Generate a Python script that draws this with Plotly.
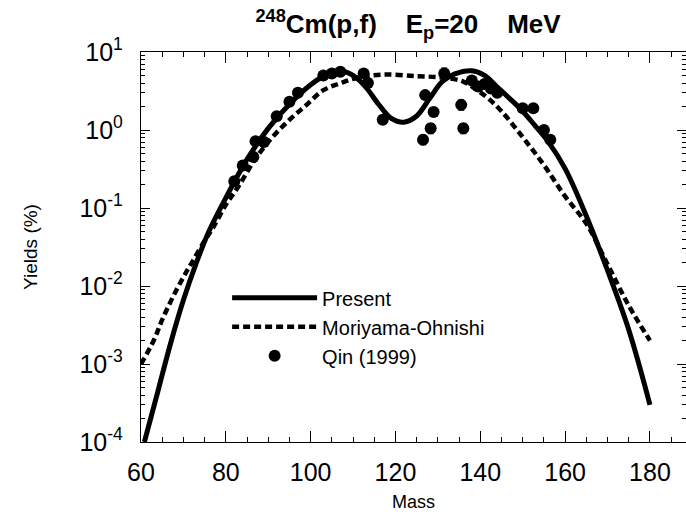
import plotly.graph_objects as go

# ---- data ----
present_mass = [60.8, 64, 67, 70, 73, 76, 80, 85, 90, 95, 100, 104, 107, 110, 113, 116,
                119, 122, 125, 128, 131, 134, 138, 141, 144, 147, 150, 153, 156, 160,
                165, 170, 175, 180]
present_yield = [1.0e-4, 4.5e-4, 1.86e-3, 6.6e-3, 0.0195, 0.050, 0.135, 0.42, 1.05, 2.14,
                 3.80, 5.25, 5.75, 5.0, 3.55, 2.14, 1.41, 1.26, 1.51, 2.51, 4.17, 5.25,
                 5.75, 5.0, 3.55, 2.51, 1.74, 1.12, 0.71, 0.32, 0.079, 0.0158, 0.00275,
                 0.00030]

moriyama_mass = [60, 63, 65, 67.5, 70, 72, 75, 77, 80, 83, 87, 91, 95, 99, 103, 107, 111,
                 117, 125, 131, 136, 139, 142, 145, 150, 155, 160, 165, 170, 175, 180]
moriyama_yield = [1.0e-3, 2.0e-3, 3.7e-3, 7.2e-3, 0.013, 0.020, 0.038, 0.056, 0.11, 0.19,
                  0.43, 0.81, 1.35, 2.09, 3.24, 3.98, 4.68, 5.13, 4.9, 4.7, 4.17, 3.31,
                  2.51, 1.74, 0.81, 0.355, 0.141, 0.063, 0.019, 0.0056, 0.0020]

qin_mass = [82, 84, 86.5, 87, 89, 92, 95, 97, 103, 105, 107, 112.5, 113.5, 117, 126.5,
            127, 128.3, 129, 131.5, 135.5, 136, 138, 139.5, 141, 142.5, 144, 150, 152.5,
            155, 156.5]
qin_yield = [0.22, 0.35, 0.45, 0.72, 0.70, 1.5, 2.3, 3.0, 5.0, 5.3, 5.6, 5.3, 4.0, 1.35,
             0.75, 2.8, 1.05, 1.7, 5.3, 2.1, 1.05, 4.3, 3.6, 3.9, 3.4, 3.0, 1.9, 1.9,
             1.0, 0.75]
qin_err = [0.03, 0.04, 0.05, 0.08, 0.08, 0.15, 0.25, 0.3, 0.5, 0.5, 0.6, 0.5, 0.4, 0.15,
           0.1, 0.3, 0.15, 0.2, 0.9, 0.3, 0.15, 0.4, 0.4, 0.4, 0.4, 0.3, 0.2, 0.2, 0.12,
           0.08]

y_tickvals = [1e-4, 1e-3, 1e-2, 1e-1, 1, 10]
y_ticktext = ["10<sup>-4</sup>", "10<sup>-3</sup>", "10<sup>-2</sup>", "10<sup>-1</sup>",
              "10<sup>0</sup>", "10<sup>1</sup>"]
x_tickvals = [60, 80, 100, 120, 140, 160, 180]

FONT = "Liberation Sans, Arial, Helvetica, sans-serif"
SP = "\u00a0\u00a0\u00a0\u00a0"

fig = go.Figure()
fig.add_trace(go.Scatter(x=present_mass, y=present_yield, mode="lines", name="Present",
                         line=dict(color="black", width=5, shape="spline")))
fig.add_trace(go.Scatter(x=moriyama_mass, y=moriyama_yield, mode="lines",
                         name="Moriyama-Ohnishi",
                         line=dict(color="black", width=4.5, dash="7px,4px", shape="spline")))
fig.add_trace(go.Scatter(x=qin_mass, y=qin_yield, mode="markers", name="Qin (1999)",
                         marker=dict(color="black", size=12, symbol="circle"),
                         error_y=dict(type="data", array=qin_err, color="black",
                                      thickness=1.5, width=3)))

fig.update_layout(
    width=686, height=521,
    margin=dict(l=141, r=0, t=52, b=79),
    paper_bgcolor="white", plot_bgcolor="white",
    font=dict(family=FONT, color="black"),
    title=dict(text="<b><sup>248</sup>Cm(p,f)" + SP + "E<sub>p</sub>=20" + SP + "MeV</b>",
               font=dict(size=26, family=FONT), x=0.49, xref="paper",
               y=1 - 24 / 521, yref="container", yanchor="middle"),
    showlegend=True,
    legend=dict(x=0.158, y=0.42, xanchor="left", yanchor="top",
                bgcolor="rgba(0,0,0,0)", font=dict(size=20, family=FONT),
                itemwidth=85, tracegroupgap=0),
)

fig.update_xaxes(range=[60, 188.5], tickvals=x_tickvals, ticks="inside", ticklen=11,
                 tickwidth=1.3, tickcolor="black", showline=True, linecolor="black",
                 linewidth=1.3, mirror="ticks", showgrid=False, zeroline=False,
                 tickfont=dict(size=25, family=FONT), ticklabelstandoff=8,
                 minor=dict(dtick=5, tick0=60, ticks="inside", ticklen=5,
                            tickcolor="black", tickwidth=1, showgrid=False),
                 title=dict(text="Mass", font=dict(size=18, family=FONT), standoff=10))

fig.update_yaxes(type="log", range=[-4, 1], tickvals=y_tickvals, ticktext=y_ticktext,
                 ticks="inside", ticklen=9, tickwidth=1.3, tickcolor="black",
                 showline=True, linecolor="black", linewidth=1.3, mirror="ticks",
                 showgrid=False, zeroline=False,
                 tickfont=dict(size=25, family=FONT), ticklabelstandoff=12,
                 minor=dict(dtick="D1", ticks="inside", ticklen=4, tickcolor="black",
                            tickwidth=1, showgrid=False),
                 title=dict(text="Yields (%)", font=dict(size=19, family=FONT),
                            standoff=36))

fig.write_html("out.html")
